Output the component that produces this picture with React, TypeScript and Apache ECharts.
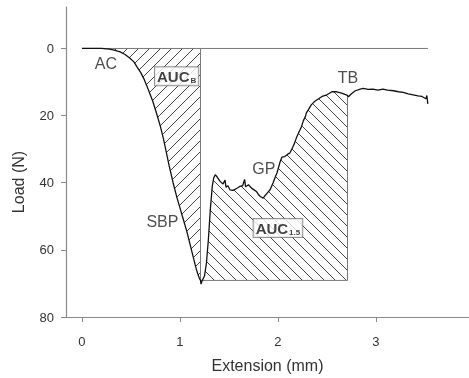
import React, { useEffect, useRef } from "react";
import * as echarts from "echarts";

// Extension (mm) and load (N)
const extension = [
  0, 0.1, 0.2, 0.28, 0.33, 0.39, 0.44, 0.49, 0.53, 0.56, 0.6, 0.63, 0.66, 0.69, 0.72, 0.745, 0.77, 0.8, 0.83, 0.86,
  0.89, 0.93, 0.97, 1.0, 1.03, 1.07, 1.1, 1.13, 1.16, 1.18, 1.2, 1.21, 1.215, 1.225, 1.25, 1.27, 1.29, 1.31, 1.33, 1.345, 1.36,
  1.38, 1.41, 1.44, 1.46, 1.47, 1.49, 1.51, 1.54, 1.56, 1.59, 1.61, 1.64, 1.66, 1.67, 1.7, 1.73, 1.76, 1.78, 1.8,
  1.82, 1.85, 1.87, 1.89, 1.92, 1.95, 1.97, 1.99, 2.02, 2.04, 2.07, 2.1, 2.12, 2.15, 2.17, 2.19, 2.21, 2.24, 2.26,
  2.28, 2.29, 2.31, 2.34, 2.37, 2.4, 2.45, 2.5, 2.55, 2.6, 2.65, 2.71, 2.72, 2.75, 2.79, 2.84, 2.87, 2.92, 2.97,
  3.02, 3.07, 3.12, 3.18, 3.23, 3.28, 3.33, 3.38, 3.43, 3.47, 3.51, 3.52, 3.53,
];
const loadN = [
  0, 0, 0, 0.2, 0.5, 1.0, 1.8, 2.9, 4.0, 5.4, 7.2, 8.9, 11, 13.3, 15.5, 17.8, 20.2, 23.2, 26.7, 30.8,
  35, 40, 44.5, 47.5, 50.5, 54.5, 58, 61.5, 65, 67, 68.6, 69.1, 70.2, 69.3, 67.8, 64, 57, 48, 41, 38.5, 37.6,
  38.3, 39.6, 40.4, 39.2, 41.3, 40.9, 42.1, 42.3, 42.0, 41.5, 41.1, 40.9, 39.0, 41.2, 40.6, 41.6, 42.2, 42.6, 43.5,
  44.1, 44.6, 43.8, 43.1, 42.1, 40.1, 38.5, 37.1, 34.0, 32.4, 32.2, 31.5, 31.2, 29.5, 28.2, 26.5, 25.2, 23.3, 21.5,
  20.3, 19.2, 18.3, 16.8, 15.9, 15.3, 14.3, 13.8, 12.9, 12.9, 13.3, 14.0, 14.4, 13.5, 12.6, 12.1, 11.9, 12.2, 12.1,
  12.4, 12.1, 12.4, 12.6, 12.9, 13.1, 13.5, 13.8, 14.1, 14.3, 15.0, 14.0, 16.5,
];

const breakExt = 1.21; // SBP extension
const breakLoad = 69.1; // SBP load
const aucStartExt = 0.28;
const aucEndExt = 2.71; // SBP + 1.5 mm
const baselineEnd = 3.53;

const xTicks = [0, 1, 2, 3];
const yTicks = [0, 20, 40, 60, 80];

const annotations = [
  { text: "AC", x: 0.245, y: 4.6 },
  { text: "SBP", x: 0.821, y: 51.5 },
  { text: "GP", x: 1.857, y: 35.9 },
  { text: "TB", x: 2.714, y: 8.6 },
];
const boxes = [
  { main: "AUC", sub: "B", x: 0.966, y: 8.3 },
  { main: "AUC", sub: "1.5", x: 2.0, y: 53.5 },
];

const FONT = "'Liberation Sans', Arial, Helvetica, sans-serif";

function hatch(dir: number, size: number, color: string) {
  const c = document.createElement("canvas");
  c.width = size;
  c.height = size;
  const ctx = c.getContext("2d")!;
  ctx.strokeStyle = color;
  ctx.lineWidth = 1;
  ctx.beginPath();
  if (dir === 1) {
    ctx.moveTo(-1, size + 1);
    ctx.lineTo(size + 1, -1);
    ctx.moveTo(-1, 1);
    ctx.lineTo(1, -1);
    ctx.moveTo(size - 1, size + 1);
    ctx.lineTo(size + 1, size - 1);
  } else {
    ctx.moveTo(-1, -1);
    ctx.lineTo(size + 1, size + 1);
    ctx.moveTo(size - 1, -1);
    ctx.lineTo(size + 1, 1);
    ctx.moveTo(-1, size - 1);
    ctx.lineTo(1, size + 1);
  }
  ctx.stroke();
  return { image: c, repeat: "repeat", imageWidth: size, imageHeight: size } as any;
}

export default function App() {
  const ref = useRef<HTMLDivElement>(null);
  useEffect(() => {
    if (!ref.current) return;
    const chart = echarts.init(ref.current, null, { renderer: "svg" });
    const curve = extension.map((x, i) => [x, loadN[i]]);
    const aucB = curve.filter((p) => p[0] >= aucStartExt && p[0] <= breakExt);
    const auc15 = curve.filter((p) => p[0] >= breakExt && p[0] <= aucEndExt);
    const endLoad = loadN[extension.indexOf(aucEndExt)];
    const grey = "#8a8a8a";
    const seg = (data: number[][], color = "#777", width = 1) => ({
      type: "line",
      data,
      symbol: "none",
      silent: true,
      lineStyle: { color, width },
      z: 3,
    });
    chart.setOption({
      animation: false,
      grid: { left: 66, top: 7, right: 0, bottom: 61 },
      xAxis: {
        type: "value",
        min: -0.163,
        max: 3.95,
        name: "Extension (mm)",
        nameLocation: "middle",
        nameGap: 40,
        nameTextStyle: { fontFamily: FONT, fontSize: 16, color: "#333" },
        axisLine: { onZero: false, lineStyle: { color: grey, width: 1.2 } },
        axisTick: { show: true, length: 5, customValues: xTicks, lineStyle: { color: grey } },
        axisLabel: { customValues: xTicks, margin: 18, fontFamily: FONT, fontSize: 13, color: "#333" },
        splitLine: { show: false },
      },
      yAxis: {
        type: "value",
        inverse: true,
        min: -12.35,
        max: 80,
        axisLine: { show: true, onZero: false, lineStyle: { color: grey, width: 1.2 } },
        axisTick: { show: true, length: 5, customValues: yTicks, lineStyle: { color: grey } },
        axisLabel: { customValues: yTicks, margin: 12, fontFamily: FONT, fontSize: 13, color: "#333" },
        splitLine: { show: false },
      },
      graphic: [
        {
          type: "text",
          x: 18,
          y: 182,
          rotation: Math.PI / 2,
          style: {
            text: "Load (N)",
            fontFamily: FONT,
            fontSize: 16,
            fill: "#333",
            align: "center",
            verticalAlign: "middle",
          },
        },
      ],
      series: [
        {
          type: "line",
          data: aucB,
          symbol: "none",
          silent: true,
          lineStyle: { width: 0 },
          areaStyle: { color: hatch(1, 11, "#444"), origin: 0, opacity: 1 },
          z: 1,
        },
        {
          type: "line",
          data: auc15,
          symbol: "none",
          silent: true,
          lineStyle: { width: 0 },
          areaStyle: { color: hatch(-1, 11, "#444"), origin: breakLoad, opacity: 1 },
          z: 1,
        },
        seg([[0, 0], [baselineEnd, 0]]),
        seg([[breakExt, 0], [breakExt, breakLoad]]),
        seg([[breakExt, breakLoad], [aucEndExt, breakLoad]]),
        seg([[aucEndExt, endLoad], [aucEndExt, breakLoad]]),
        {
          type: "line",
          data: curve,
          symbol: "none",
          silent: true,
          lineStyle: { color: "#111", width: 1.3 },
          z: 5,
        },
        {
          type: "scatter",
          symbolSize: 0,
          silent: true,
          z: 6,
          data: annotations.map((a) => ({ value: [a.x, a.y], name: a.text })),
          label: {
            show: true,
            position: "inside",
            formatter: (p: any) => p.name,
            fontFamily: FONT,
            fontSize: 16,
            color: "#222",
          },
        },
        {
          type: "scatter",
          symbolSize: 0,
          silent: true,
          z: 7,
          data: boxes.map((b) => ({ value: [b.x, b.y], name: b.main, sub: b.sub })),
          label: {
            show: true,
            position: "inside",
            formatter: (p: any) => `{a|${p.data.name}}{s|${p.data.sub}}`,
            backgroundColor: "#fff",
            borderColor: "#777",
            borderWidth: 1,
            padding: [2, 2, 1, 2],
            rich: {
              a: { fontFamily: FONT, fontSize: 15, fontWeight: "bold", color: "#111" },
              s: { fontFamily: FONT, fontSize: 8, fontWeight: "bold", color: "#111", verticalAlign: "bottom", padding: [6, 0, 0, 1] },
            },
          },
        },
      ],
    });
    return () => chart.dispose();
  }, []);
  return <div ref={ref} style={{ position: "fixed", left: 0, top: 0, width: 469, height: 378 }} />;
}
